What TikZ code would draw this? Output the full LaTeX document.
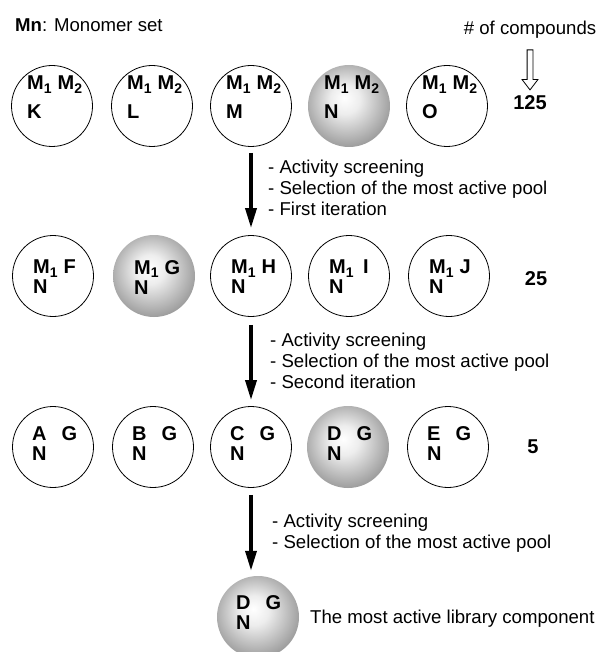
\documentclass[tikz,border=0pt]{standalone}
\usepackage{fontspec}
\setmainfont{Liberation Sans}
\usetikzlibrary{positioning,arrows.meta,shapes.arrows}
\newcommand{\txt}{\fontsize{18.6}{21}\selectfont}
\newcommand{\tagtxt}{\fontsize{20}{21}\selectfont}
\pgfdeclareradialshading{sphere}{\pgfpoint{-3bp}{5bp}}{color(0bp)=(white); color(9bp)=(black!7); color(27bp)=(black!38); color(50bp)=(black!38)}

\begin{document}
\begin{tikzpicture}[x=1pt,y=-1pt]
	\tikzset{Pool/.style = {circle, draw, line width=0.8pt, minimum size=81pt, inner sep=0pt},
		Hit/.style = {circle, minimum size=82pt, inner sep=0pt, shading=sphere},
		Tag/.style = {anchor=north west, inner sep=0pt, align=left, font=\tagtxt\bfseries},
		Note/.style = {anchor=north west, inner sep=0pt, align=left, font=\txt},
		Flow/.style = {-{Triangle[width=11pt,length=20pt]}, line width=3.5pt}}
	\useasboundingbox (0,0) rectangle (604,652);
	\node[Note, anchor=base west] (title) at (15,32) {\textbf{Mn}: Monomer set};
	\node[Note, anchor=base]      (count) at (530,35) {\# of compounds};
	\node[single arrow, draw, line width=0.8pt, shape border rotate=270, minimum height=40pt,
		single arrow head extend=5pt, single arrow tip angle=75, inner sep=2.5pt] (down) at (530,68) {};
	% 125 pools
	\node[Pool] (pK) at (52,106)  {};
	\node[Pool] (pL) at (152,106) {};
	\node[Pool] (pM) at (251,106) {};
	\node[Hit]  (pN) at (349,106) {};
	\node[Pool] (pO) at (447,106) {};
	\node[Tag] (tK) at ([shift={(-25,-30)}]pK.center) {M\textsubscript{1} M\textsubscript{2}\\[8pt]K};
	\node[Tag] (tL) at ([shift={(-25,-30)}]pL.center) {M\textsubscript{1} M\textsubscript{2}\\[8pt]L};
	\node[Tag] (tM) at ([shift={(-25,-30)}]pM.center) {M\textsubscript{1} M\textsubscript{2}\\[8pt]M};
	\node[Tag] (tN) at ([shift={(-25,-30)}]pN.center) {M\textsubscript{1} M\textsubscript{2}\\[8pt]N};
	\node[Tag] (tO) at ([shift={(-25,-30)}]pO.center) {M\textsubscript{1} M\textsubscript{2}\\[8pt]O};
	\node[Tag, anchor=center] (n125) at (530,103) {125};
	% 25 pools
	\node[Pool] (pF) at (53,276)  {};
	\node[Hit]  (pG) at (154,276) {};
	\node[Pool] (pH) at (251,276) {};
	\node[Pool] (pI) at (349,276) {};
	\node[Pool] (pJ) at (449,276) {};
	\node[Tag] (tF) at ([shift={(-20,-16)}]pF.center) {M\textsubscript{1} F\\[-1pt]N};
	\node[Tag] (tG) at ([shift={(-20,-16)}]pG.center) {M\textsubscript{1} G\\[-1pt]N};
	\node[Tag] (tH) at ([shift={(-20,-16)}]pH.center) {M\textsubscript{1} H\\[-1pt]N};
	\node[Tag] (tI) at ([shift={(-20,-16)}]pI.center) {M\textsubscript{1}\hspace{9pt}I\\[-1pt]N};
	\node[Tag] (tJ) at ([shift={(-20,-16)}]pJ.center) {M\textsubscript{1} J\\[-1pt]N};
	\node[Tag, anchor=center] (n25) at (536,279) {25};
	% 5 pools
	\node[Pool] (pA) at (53,447)  {};
	\node[Pool] (pB) at (153,447) {};
	\node[Pool] (pC) at (251,447) {};
	\node[Hit]  (pD) at (348,447) {};
	\node[Pool] (pE) at (448,447) {};
	\node[Tag] (tA) at ([shift={(-21,-21)}]pA.center) {A\hspace{15pt}G\\[-1pt]N};
	\node[Tag] (tB) at ([shift={(-21,-21)}]pB.center) {B\hspace{15pt}G\\[-1pt]N};
	\node[Tag] (tC) at ([shift={(-21,-21)}]pC.center) {C\hspace{15pt}G\\[-1pt]N};
	\node[Tag] (tD) at ([shift={(-21,-21)}]pD.center) {D\hspace{15pt}G\\[-1pt]N};
	\node[Tag] (tE) at ([shift={(-21,-21)}]pE.center) {E\hspace{15pt}G\\[-1pt]N};
	\node[Tag, anchor=center] (n5) at (533,447) {5};
	% most active component
	\node[Hit] (best) at (258,617) {};
	\node[Tag] (tbest) at ([shift={(-22,-22)}]best.center) {D\hspace{15pt}G\\[-1pt]N};
	\node[Note, anchor=base west] (label) at (310,623) {The most active library component};
	% screening steps
	\draw[Flow, shorten <=6pt, shorten >=7pt] (pM) -- (pH);
	\draw[Flow, shorten <=8pt, shorten >=6pt] (pH) -- (pC);
	\draw[Flow, shorten <=7pt, shorten >=5pt] (pC.south) -- (pC.south |- best.north);
	\node[Note] (why1) at (268,160) {- Activity screening\\- Selection of the most active pool\\- First iteration};
	\node[Note] (why2) at (270,333) {- Activity screening\\- Selection of the most active pool\\- Second iteration};
	\node[Note] (why3) at (272,514) {- Activity screening\\- Selection of the most active pool};
\end{tikzpicture}
\end{document}
